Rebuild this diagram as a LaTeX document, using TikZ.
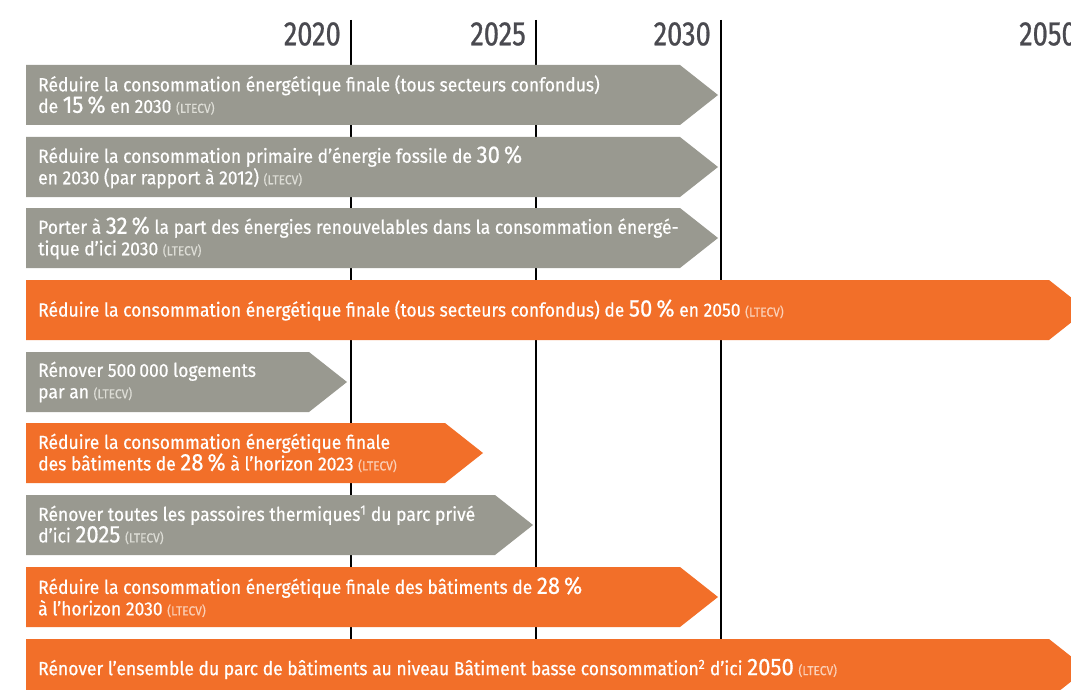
\documentclass[tikz,border=0pt]{standalone}
\usepackage{fontspec}
\setmainfont{Fira Sans}[FakeStretch=0.92,FakeBold=0.6]
\newfontfamily\yearfont{Fira Sans}[FakeStretch=0.8,FakeBold=0.8]
\definecolor{bargray}{HTML}{999990}
\definecolor{barorange}{HTML}{F26F29}
\definecolor{yeargray}{HTML}{4A4A50}
\definecolor{ltgray}{HTML}{DDDDD6}
\definecolor{ltorange}{HTML}{FAD0B8}
\newcommand\tlbar[3]{\fill[#1] (26,#2) -- (#3,#2) -- ({#3+38},{#2+30}) -- (#3,{#2+60}) -- (26,{#2+60}) -- cycle;}
\newcommand\bnum[1]{{\fontsize{24}{20}\selectfont #1}}
\newcommand\ltg{{\fontsize{13}{11}\selectfont\color{ltgray}(LTECV)}}
\newcommand\lto{{\fontsize{13}{11}\selectfont\color{ltorange}(LTECV)}}
\tikzset{
  txt/.style={anchor=west, text=white, align=left, inner sep=0pt, font=\fontsize{19}{21.5}\selectfont},
  year/.style={text=yeargray, inner sep=0pt, font=\yearfont\fontsize{34}{34}\selectfont},
  yline/.style={line width=2pt, black}
}
\begin{document}
\begin{tikzpicture}[x=1pt,y=-1pt]
\useasboundingbox (0,0) rectangle (1071,690);
% years
\node[year, anchor=east] (y2020) at (341,34) {2020};
\node[year, anchor=east] (y2025) at (526,34) {2025};
\node[year, anchor=east] (y2030) at (711,34) {2030};
\node[year, anchor=west] (y2050) at (1019,34) {2050};
% vertical lines
\coordinate (l20t) at (351,20); \coordinate (l20b) at (351,640);
\coordinate (l25t) at (536,20); \coordinate (l25b) at (536,640);
\coordinate (l30t) at (721,20); \coordinate (l30b) at (721,640);
\draw[yline] (l20t) -- (l20b);
\draw[yline] (l25t) -- (l25b);
\draw[yline] (l30t) -- (l30b);
% bars
\tlbar{bargray}{65}{680}
\tlbar{bargray}{137}{680}
\tlbar{bargray}{208}{680}
\tlbar{barorange}{280}{1049}
\tlbar{bargray}{352}{309}
\tlbar{barorange}{423}{445}
\tlbar{bargray}{495}{495}
\tlbar{barorange}{567}{680}
\tlbar{barorange}{639}{1049}
% texts
\node[txt] (t1) at (38,95) {Réduire la consommation énergétique finale (tous secteurs confondus)\\de \bnum{15\,\%} en 2030 \ltg};
\node[txt] (t2) at (38,167) {Réduire la consommation primaire d’énergie fossile de \bnum{30\,\%}\\en 2030 (par rapport à 2012) \ltg};
\node[txt] (t3) at (38,238) {Porter à \bnum{32\,\%} la part des énergies renouvelables dans la consommation énergé-\\tique d’ici 2030 \ltg};
\node[txt] (t4) at (38,310) {Réduire la consommation énergétique finale (tous secteurs confondus) de \bnum{50\,\%} en 2050 \lto};
\node[txt] (t5) at (38,382) {Rénover 500\,000 logements\\par an \ltg};
\node[txt] (t6) at (38,453) {Réduire la consommation énergétique finale\\des bâtiments de \bnum{28\,\%} à l’horizon 2023 \lto};
\node[txt] (t7) at (38,525) {Rénover toutes les passoires thermiques\textsuperscript{1} du parc privé\\d’ici \bnum{2025} \ltg};
\node[txt] (t8) at (38,597) {Réduire la consommation énergétique finale des bâtiments de \bnum{28\,\%}\\à l’horizon 2030 \lto};
\node[txt] (t9) at (38,669) {Rénover l’ensemble du parc de bâtiments au niveau Bâtiment basse consommation\textsuperscript{2} d’ici \bnum{2050} \lto};
\end{tikzpicture}
\end{document}
